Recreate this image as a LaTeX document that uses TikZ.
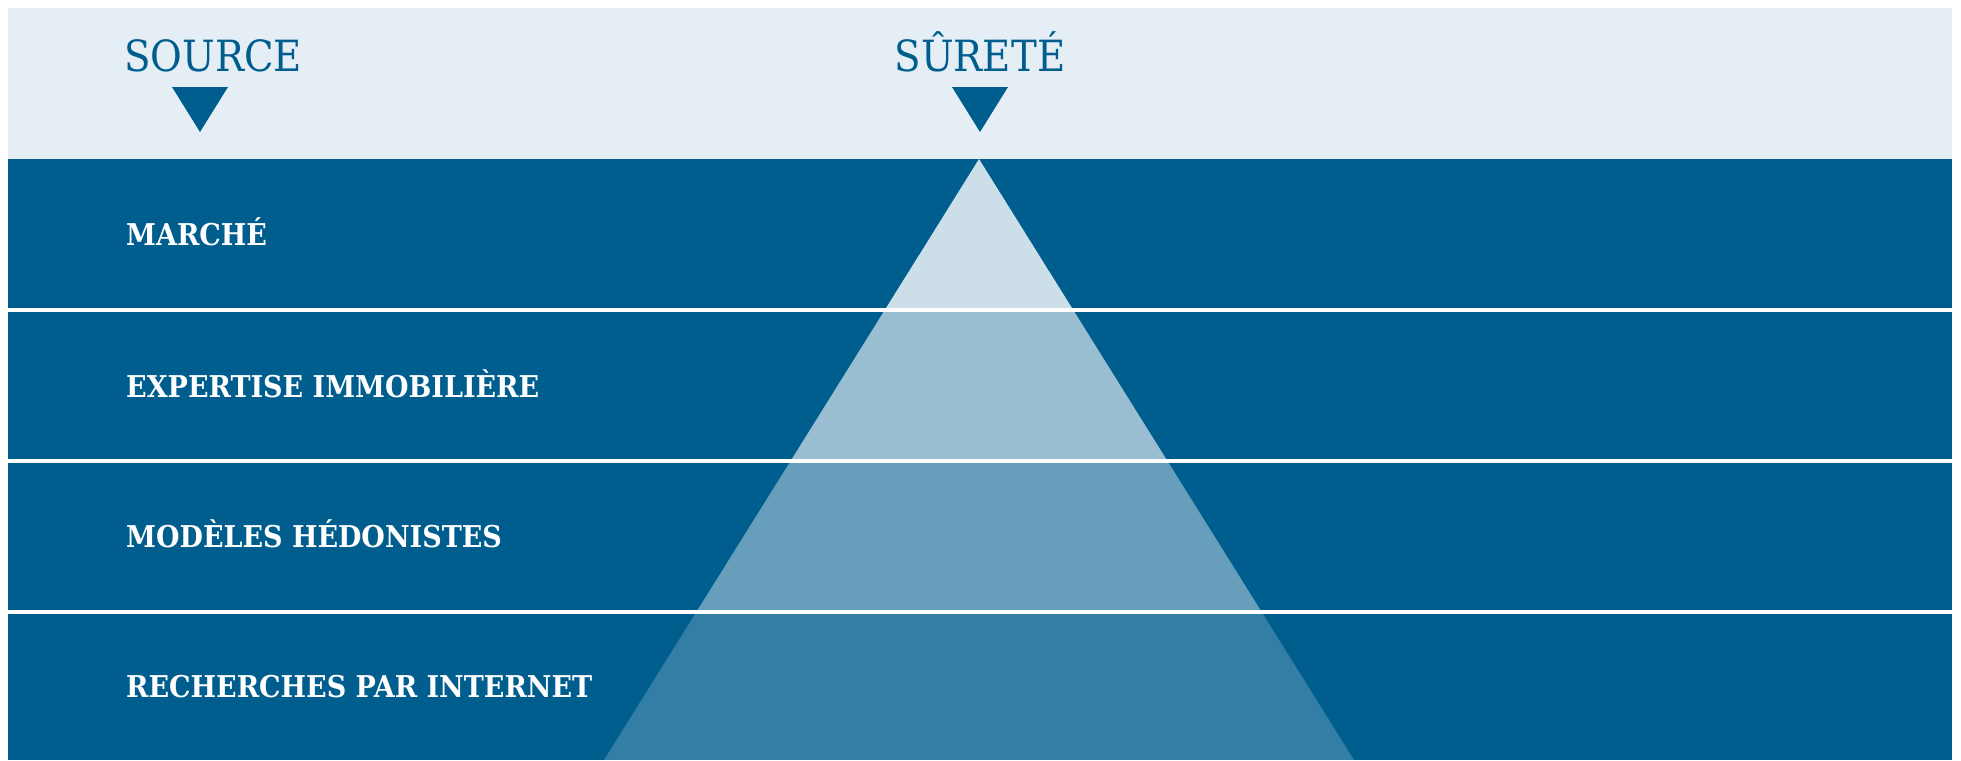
\documentclass[tikz,border=0pt]{standalone}
\usepackage{fontspec}
\newfontfamily\headfont{DejaVu Serif Condensed}
\newfontfamily\labfont{DejaVu Serif Condensed Bold}
\definecolor{darkblue}{HTML}{005E8F}
\definecolor{headbg}{HTML}{E5EEF5}
\tikzset{
  headtext/.style={inner sep=0pt, text=darkblue, font=\headfont\fontsize{43}{43}\selectfont, anchor=base west},
  bandlabel/.style={inner sep=0pt, text=white, font=\labfont\fontsize{30}{30}\selectfont, anchor=base west},
  sepline/.style={draw=white, line width=3.5pt},
  marker/.style={fill=darkblue}
}
\begin{document}
\begin{tikzpicture}[x=1pt,y=-1pt]
\useasboundingbox (0,0) rectangle (1961,760);
\fill[headbg] (8,8) rectangle (1952,159);
\fill[darkblue] (8,159) rectangle (1952,760);
\begin{scope}
  \clip (979,159) -- (604,760) -- (1354,760) -- cycle;
  \fill[white, opacity=0.8] (0,159) rectangle (1961,310);
  \fill[white, opacity=0.6] (0,310) rectangle (1961,461);
  \fill[white, opacity=0.4] (0,461) rectangle (1961,612);
  \fill[white, opacity=0.2] (0,612) rectangle (1961,760);
\end{scope}
\coordinate (l1a) at (8,310); \coordinate (l1b) at (1952,310);
\coordinate (l2a) at (8,461); \coordinate (l2b) at (1952,461);
\coordinate (l3a) at (8,612); \coordinate (l3b) at (1952,612);
\draw[sepline] (l1a) -- (l1b);
\draw[sepline] (l2a) -- (l2b);
\draw[sepline] (l3a) -- (l3b);
\fill[marker] (172,87) -- (228,87) -- (200,132) -- cycle;
\fill[marker] (952,87) -- (1008,87) -- (980,132) -- cycle;
\node[headtext] (source) at (124,71) {SOURCE};
\node[headtext, anchor=base] (surete) at (980,71) {SÛRETÉ};
\node[bandlabel] (marche) at (126,245) {MARCHÉ};
\node[bandlabel] (expertise) at (126,397) {EXPERTISE IMMOBILIÈRE};
\node[bandlabel] (modeles) at (126,547) {MODÈLES HÉDONISTES};
\node[bandlabel] (recherches) at (126,697) {RECHERCHES PAR INTERNET};
\end{tikzpicture}
\end{document}
